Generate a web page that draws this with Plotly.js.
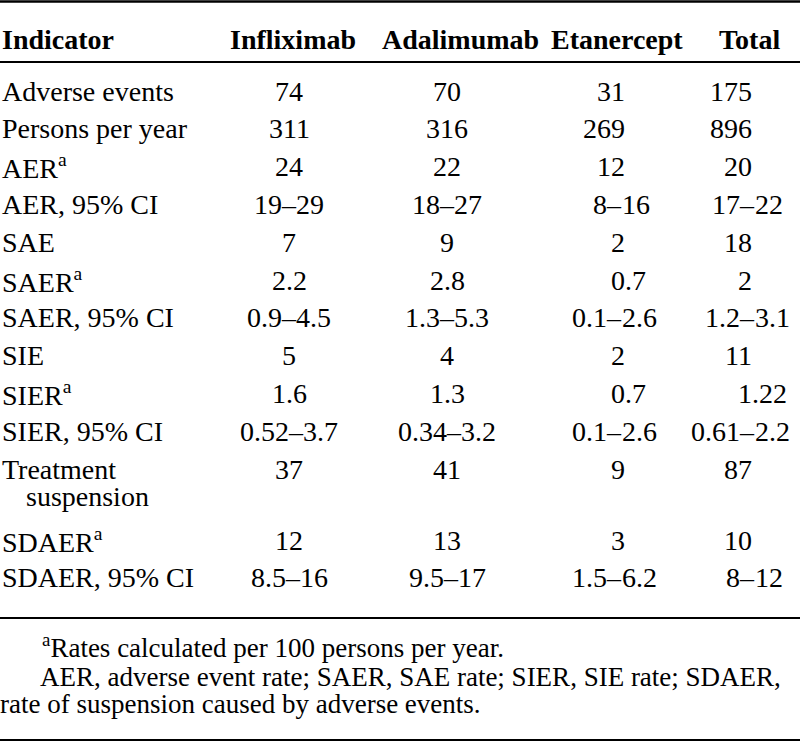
<!DOCTYPE html>
<html>
<head>
<meta charset="utf-8">
<script src="https://cdn.plot.ly/plotly-3.0.1.min.js"></script>
<style>html,body{margin:0;padding:0;background:#fff;}#chart{width:800px;height:746px;}</style>
</head>
<body>
<div id="chart"></div>
<script>
// ---- data ----
const headers = ["Indicator", "Infliximab", "Adalimumab", "Etanercept", "Total"];
const indicators = ["Adverse events", "Persons per year", "AER<sup>a</sup>", "AER, 95% CI", "SAE",
  "SAER<sup>a</sup>", "SAER, 95% CI", "SIE", "SIER<sup>a</sup>", "SIER, 95% CI",
  "Treatment\nsuspension", "SDAER<sup>a</sup>", "SDAER, 95% CI"];
const infliximab = ["74", "311", "24", "19–29", "7", "2.2", "0.9–4.5", "5", "1.6", "0.52–3.7", "37", "12", "8.5–16"];
const adalimumab = ["70", "316", "22", "18–27", "9", "2.8", "1.3–5.3", "4", "1.3", "0.34–3.2", "41", "13", "9.5–17"];
const etanercept = ["31", "269", "12", "8–16", "2", "0.7", "0.1–2.6", "2", "0.7", "0.1–2.6", "9", "3", "1.5–6.2"];
const total = ["175", "896", "20", "17–22", "18", "2", "1.2–3.1", "11", "1.22", "0.61–2.2", "87", "10", "8–12"];
const footnotes = ["<sup>a</sup>Rates calculated per 100 persons per year.",
  "AER, adverse event rate; SAER, SAE rate; SIER, SIE rate; SDAER,",
  "rate of suspension caused by adverse events."];

// ---- layout config ----
const FONT = "Liberation Serif, Times New Roman, serif";
const BODY = 28, HEAD = 28, FOOT = 27;
const headerX = [2, 293, 460, 617, 749];
const cols = [
  {vals: infliximab, x: 289, mode: "center"},
  {vals: adalimumab, x: 447, mode: "center"},
  {vals: etanercept, x: 625, dash: 615, mode: "decimal"},
  {vals: total, x: 752, dash: 748, mode: "decimal"}
];
const headerY = 39, rowY0 = 91, pitch = 37.8, wrapLead = 27, wrapGap = 44, indent = 26, dashHalf = 7;
const footY = [646, 677, 704], footX = [42, 40, 0];

const ann = [];
function add(text, x, y, xanchor, opts) {
  ann.push(Object.assign({
    text: text, x: x, y: y, xref: "x", yref: "y", xanchor: xanchor, yanchor: "middle",
    showarrow: false, borderpad: 0, borderwidth: 0,
    font: {family: FONT, size: BODY, color: "#000"}
  }, opts || {}));
}

// header
headers.forEach((h, i) => add("<b>" + h + "</b>", headerX[i], headerY, i === 0 ? "left" : "center",
  {font: {family: FONT, size: HEAD, color: "#000"}}));

// rows
let y = rowY0;
indicators.forEach((lab, r) => {
  const parts = lab.split("\n");
  parts.forEach((p, k) => add(p, k === 0 ? 2 : indent, y + k * wrapLead, "left"));
  cols.forEach(c => {
    const v = c.vals[r];
    if (c.mode === "center") {
      add(v, c.x, y, "center");
    } else if (v.indexOf("–") >= 0) {
      const [a, b] = v.split("–");
      add(a + "–", c.dash + dashHalf, y, "right");
      add(b, c.dash + dashHalf, y, "left");
    } else if (v.indexOf(".") >= 0) {
      const [a, b] = v.split(".");
      add(a, c.x, y, "right");
      add("." + b, c.x, y, "left");
    } else {
      add(v, c.x, y, "right");
    }
  });
  y += parts.length > 1 ? (parts.length - 1) * wrapLead + wrapGap : pitch;
});

// footnotes
footnotes.forEach((f, i) => add(f, footX[i], footY[i], "left", {font: {family: FONT, size: FOOT, color: "#000"}}));

const rules = [{y: 1.5, w: 2.5}, {y: 62, w: 2}, {y: 618, w: 2}, {y: 740, w: 2}];
const shapes = rules.map(s => ({type: "line", xref: "paper", x0: 0, x1: 1, yref: "y", y0: s.y, y1: s.y,
  line: {color: "#000", width: s.w}}));

const layout = {
  width: 800, height: 746, margin: {l: 0, r: 0, t: 0, b: 0},
  paper_bgcolor: "#fff", plot_bgcolor: "#fff", showlegend: false,
  xaxis: {range: [0, 800], visible: false, fixedrange: true},
  yaxis: {range: [746, 0], visible: false, fixedrange: true},
  annotations: ann, shapes: shapes
};
Plotly.newPlot("chart", [{type: "scatter", x: [], y: [], mode: "markers"}], layout, {staticPlot: true, displayModeBar: false});
</script>
</body>
</html>
